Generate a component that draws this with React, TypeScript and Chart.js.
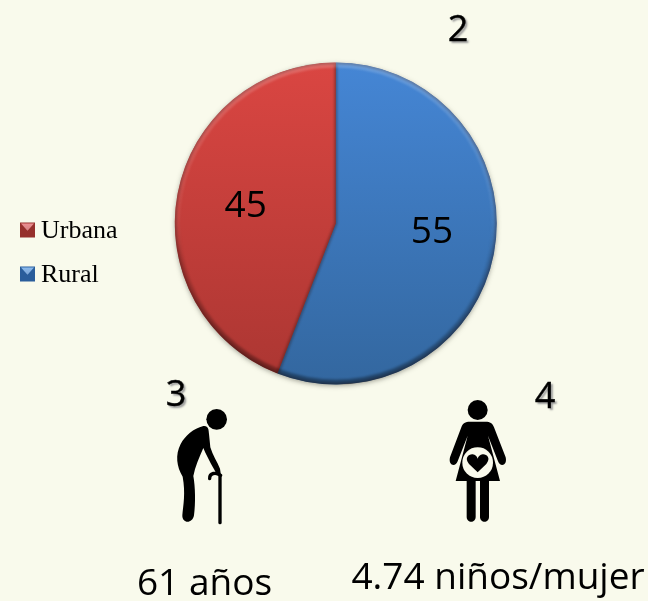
import React, { useEffect, useRef } from "react";
import { Chart, registerables } from "chart.js";

Chart.register(...registerables);

const categories = ["Rural", "Urbana"];
const sliceSizes = [55.9, 44.1];
const sliceLabels = ["55", "45"];
const topNumber = "2";
const leftNumber = "3";
const rightNumber = "4";
const ageText = "61 años";
const fertilityText = "4.74 niños/mujer";

const PAGE_BG = "#f9faec";
const FILL_STOPS = [
  ["#4586d5", "#33679f"],
  ["#da4642", "#ab3632"],
];
const MARKER_STOPS = [
  ["#4f97e8", "#2a5d9b"],
  ["#e8565a", "#96302c"],
];
const LABEL_OFFSETS = [
  [17, -6.3],
  [-11, -2.7],
];
const LEGEND_SHIFT = 30;

function makeMarker(stops: string[]) {
  const c = document.createElement("canvas");
  c.width = 30;
  c.height = 19;
  const x = c.getContext("2d")!;
  const l = 11, t = 0.5, s = 15;
  const g = x.createLinearGradient(0, t, 0, t + s);
  g.addColorStop(0, stops[0]);
  g.addColorStop(1, stops[1]);
  x.fillStyle = stops[1];
  x.fillRect(l, t, s, s);
  x.fillStyle = g;
  x.beginPath();
  x.moveTo(l + 1, t + 1);
  x.lineTo(l + s - 1, t + 1);
  x.lineTo(l + s / 2, t + s * 0.55);
  x.closePath();
  x.fill();
  x.fillStyle = "rgba(255,255,255,0.35)";
  x.fill();
  return c;
}

const arcPath = (ctx: CanvasRenderingContext2D, a: any) => {
  ctx.beginPath();
  ctx.moveTo(a.x, a.y);
  ctx.arc(a.x, a.y, a.outerRadius, a.startAngle, a.endAngle);
  ctx.closePath();
};

const piePlugin = {
  id: "piePlugin",
  afterLayout(chart: any) {
    const lg = chart.legend;
    if (lg) {
      lg.top += LEGEND_SHIFT;
      lg.bottom += LEGEND_SHIFT;
    }
  },
  beforeDatasetsDraw(chart: any) {
    const a = chart.getDatasetMeta(0).data[0];
    const ctx = chart.ctx;
    ctx.save();
    ctx.shadowColor = "rgba(60,60,50,0.5)";
    ctx.shadowBlur = 5;
    ctx.shadowOffsetY = 1.5;
    ctx.fillStyle = "#555";
    ctx.beginPath();
    ctx.arc(a.x, a.y, a.outerRadius - 0.5, 0, Math.PI * 2);
    ctx.fill();
    ctx.restore();
  },
  afterDatasetsDraw(chart: any) {
    const ctx = chart.ctx;
    chart.getDatasetMeta(0).data.forEach((a: any) => {
      ctx.save();
      arcPath(ctx, a);
      ctx.clip();
      ctx.filter = "blur(1px)";
      ctx.strokeStyle = "rgba(40,15,15,0.32)";
      ctx.lineWidth = 3.5;
      arcPath(ctx, a);
      ctx.stroke();
      const g = ctx.createLinearGradient(0, a.y - a.outerRadius, 0, a.y + a.outerRadius);
      g.addColorStop(0, "rgba(255,255,255,0.2)");
      g.addColorStop(0.45, "rgba(255,255,255,0.06)");
      g.addColorStop(0.6, "rgba(0,0,0,0.1)");
      g.addColorStop(1, "rgba(0,0,0,0.34)");
      ctx.strokeStyle = g;
      ctx.lineWidth = 7;
      ctx.beginPath();
      ctx.arc(a.x, a.y, a.outerRadius - 1.5, 0, Math.PI * 2);
      ctx.stroke();
      ctx.restore();
    });
    ctx.save();
    ctx.font = '37px "Open Sans"';
    ctx.fillStyle = "#000";
    ctx.textAlign = "center";
    ctx.textBaseline = "middle";
    chart.getDatasetMeta(0).data.forEach((a: any, i: number) => {
      const p = a.getCenterPoint();
      ctx.fillText(sliceLabels[i], p.x + LABEL_OFFSETS[i][0], p.y + LABEL_OFFSETS[i][1]);
    });
    ctx.restore();
  },
};

const numberStyle = (left: number, top: number): React.CSSProperties => ({
  position: "absolute",
  left,
  top,
  transform: "translate(-50%,-50%)",
  font: '36px "Open Sans"',
  color: "#000",
  lineHeight: 1,
  textShadow: "2px 2px 2px #999",
  WebkitTextStroke: "0.4px #000",
});
const captionStyle = (left: number, top: number): React.CSSProperties => ({
  position: "absolute",
  left,
  top,
  transform: "translate(-50%,-50%)",
  font: '37px "Open Sans"',
  color: "#000",
  lineHeight: 1,
  whiteSpace: "nowrap",
});

export default function App() {
  const ref = useRef<HTMLCanvasElement>(null);
  useEffect(() => {
    document.body.style.background = PAGE_BG;
    const markers = MARKER_STOPS.map(makeMarker);
    const chart = new Chart(ref.current!, {
      type: "pie",
      data: {
        labels: categories,
        datasets: [
          {
            data: sliceSizes,
            borderWidth: 0,
            backgroundColor: (c: any) => {
              const area = c.chart.chartArea;
              const stops = FILL_STOPS[c.dataIndex] || FILL_STOPS[0];
              if (!area) return stops[0];
              const g = c.chart.ctx.createLinearGradient(0, area.top, 0, area.bottom);
              g.addColorStop(0, stops[0]);
              g.addColorStop(1, stops[1]);
              return g;
            },
          },
        ],
      },
      options: {
        responsive: false,
        animation: false,
        layout: { padding: { left: 2, right: 104, top: 62.5, bottom: 216.5 } },
        plugins: {
          tooltip: { enabled: false },
          legend: {
            position: "left",
            labels: {
              font: { family: '"Liberation Serif"', size: 26 },
              color: "#000",
              padding: 18,
              boxWidth: 8,
              boxHeight: 8,
              usePointStyle: true,
              generateLabels: () =>
                categories
                  .map((name, i) => ({
                    text: name,
                    pointStyle: markers[i],
                    fillStyle: "transparent",
                    strokeStyle: "transparent",
                    lineWidth: 0,
                    index: i,
                  }))
                  .reverse(),
            },
          },
        },
      } as any,
      plugins: [piePlugin],
    });
    return () => chart.destroy();
  }, []);

  return (
    <div style={{ position: "absolute", left: 0, top: 0, width: 648, height: 601, overflow: "hidden", background: PAGE_BG }}>
      <canvas ref={ref} width={648} height={601} style={{ position: "absolute", left: 0, top: 0, width: 648, height: 601 }} />
      <div style={numberStyle(458, 28)}>{topNumber}</div>
      <div style={numberStyle(176, 393)}>{leftNumber}</div>
      <div style={numberStyle(545, 395)}>{rightNumber}</div>
      <div style={captionStyle(204.5, 580)}>{ageText}</div>
      <div style={captionStyle(498, 574)}>{fertilityText}</div>

      <svg viewBox="0 0 360 510" style={{ position: "absolute", left: 140, top: 370, width: 120, height: 170 }}>
        <circle cx="230" cy="148" r="31" fill="#000" />
        <path
          d="M190 168 C205 166 206 178 207 192 L211 232 C218 256 232 276 240 296 L243 316 L232 316 C222 296 204 268 190 234 C178 262 165 290 160 318 C166 350 167 400 162 436 C158 462 126 462 127 436 C130 405 137 370 128 320 C110 290 105 255 122 222 C136 196 160 176 190 168 Z"
          fill="#000"
        />
        <path d="M240 318 V458" stroke="#000" strokeWidth="10" strokeLinecap="round" fill="none" />
        <path d="M242 316 C228 306 208 308 209 326" stroke="#000" strokeWidth="10" strokeLinecap="round" fill="none" />
      </svg>

      <svg viewBox="0 0 450 510" style={{ position: "absolute", left: 420, top: 370, width: 150, height: 170 }}>
        <circle cx="173" cy="120" r="30" fill="#000" />
        <path d="M150 155 H197 C210 155 218 160 222 172 L257 262 C263 288 240 292 234 274 L204 197 L240 333 H107 L143 197 L113 274 C107 292 84 288 90 262 L124 172 C128 160 136 155 150 155 Z" fill="#000" />
        <path d="M140 333 H167 V440 C167 460 140 460 140 440 Z" fill="#000" />
        <path d="M180 333 H207 V440 C207 460 180 460 180 440 Z" fill="#000" />
        <circle cx="173" cy="278" r="46" fill={PAGE_BG} />
        <path d="M173 307 L147 282 C132 264 146 252 158 253 C166 254 171 260 173 266 C175 260 180 254 188 253 C200 252 214 264 199 282 Z" fill="#000" />
      </svg>
    </div>
  );
}
